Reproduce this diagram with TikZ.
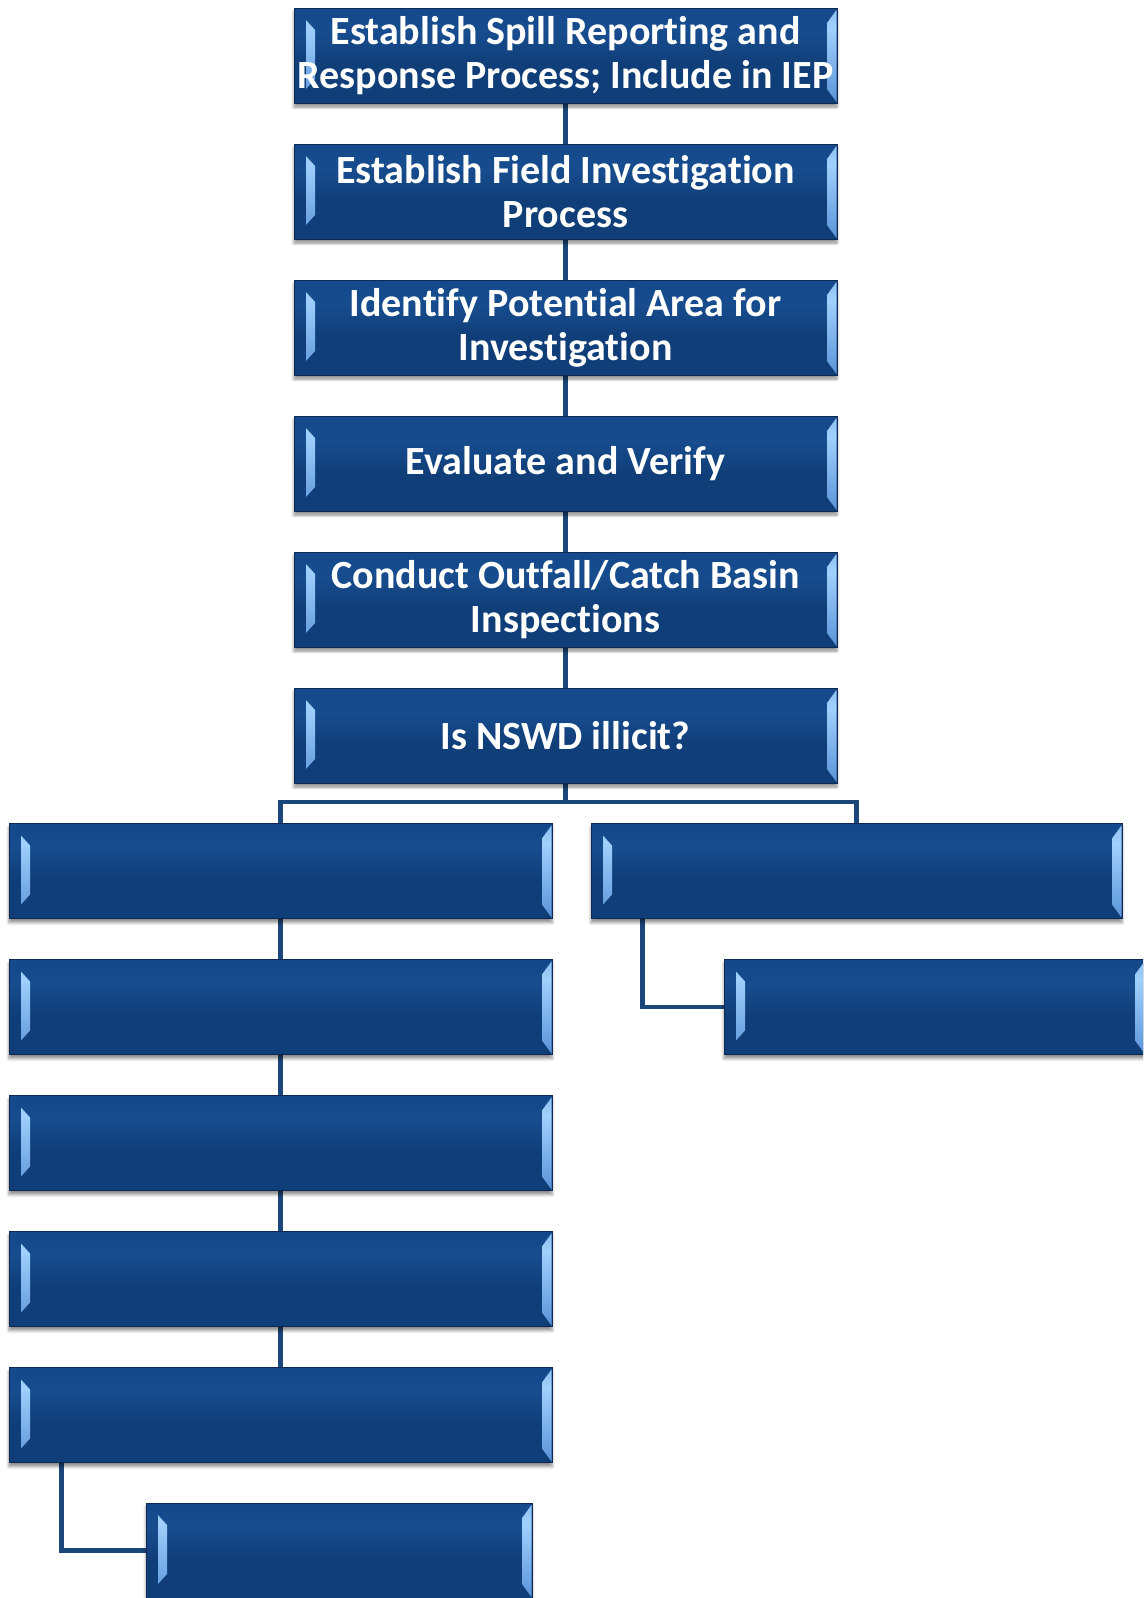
\documentclass[tikz,border=0pt]{standalone}
\usepackage{fontspec}
\setmainfont{Carlito}[Ligatures=NoCommon]
\usetikzlibrary{shadows.blur,backgrounds,calc}
\definecolor{boxedge}{RGB}{14,42,84}
\definecolor{bxa}{RGB}{13,52,104}
\definecolor{bxb}{RGB}{16,62,120}
\definecolor{bxc}{RGB}{23,76,142}
\definecolor{bxd}{RGB}{17,70,136}
\definecolor{bevlight}{RGB}{160,208,252}
\definecolor{bevmid}{RGB}{100,156,222}
\definecolor{bevdark}{RGB}{50,100,170}
\definecolor{lineblue}{RGB}{27,70,122}
\pgfdeclareverticalshading{boxshade}{100bp}{color(0bp)=(bxa); color(20bp)=(bxb); color(45bp)=(bxb); color(62bp)=(bxc); color(85bp)=(bxd); color(100bp)=(bxd)}
\pgfdeclareverticalshading{bevelshade}{100bp}{color(0bp)=(bevdark); color(30bp)=(bevmid); color(65bp)=(bevlight); color(100bp)=(bevmid)}
\tikzset{
  flowbox/.style={rectangle, draw=boxedge, line width=0.8pt, minimum width=#1, minimum height=95pt, inner sep=0pt,
    shade, shading=boxshade, text=white, align=center,
    font=\bfseries\fontsize{40}{44}\selectfont,
    blur shadow={shadow xshift=0pt, shadow yshift=-4pt, shadow blur radius=3pt, shadow opacity=45},
    path picture={
      \shade[shading=bevelshade]
        ([shift={(12pt,-12pt)}]path picture bounding box.north west) --
        ([shift={(12pt,14pt)}]path picture bounding box.south west) --
        ([shift={(21pt,24pt)}]path picture bounding box.south west) --
        ([shift={(21pt,-22pt)}]path picture bounding box.north west) -- cycle;
      \shade[shading=bevelshade]
        ([shift={(-0.5pt,-2pt)}]path picture bounding box.north east) --
        ([shift={(-0.5pt,1pt)}]path picture bounding box.south east) --
        ([shift={(-10pt,14pt)}]path picture bounding box.south east) --
        ([shift={(-10pt,-15pt)}]path picture bounding box.north east) -- cycle;
    }},
  conn/.style={draw=lineblue, line width=4.5pt}
}
\begin{document}
\begin{tikzpicture}[x=1pt,y=-1pt]
\useasboundingbox (0,0) rectangle (1143,1598);
\clip (0,0) rectangle (1143,1598);
\node[flowbox=543pt] (t1) at (565.5,55.5) {Establish Spill Reporting and\\Response Process; Include in IEP};
\node[flowbox=543pt] (t2) at (565.5,191.5) {Establish Field Investigation\\Process};
\node[flowbox=543pt] (t3) at (565.5,327.5) {Identify Potential Area for\\Investigation};
\node[flowbox=543pt] (t4) at (565.5,463.5) {Evaluate and Verify};
\node[flowbox=543pt] (t5) at (565.5,599.5) {Conduct Outfall/Catch Basin\\Inspections};
\node[flowbox=543pt] (t6) at (565.5,735.5) {Is NSWD illicit?};
\node[flowbox=543pt] (l1) at (280.5,871) {};
\node[flowbox=543pt] (l2) at (280.5,1007) {};
\node[flowbox=543pt] (l3) at (280.5,1143) {};
\node[flowbox=543pt] (l4) at (280.5,1279) {};
\node[flowbox=543pt] (l5) at (280.5,1415) {};
\node[flowbox=531pt] (r1) at (856.5,871) {};
\node[flowbox=421pt] (r2) at (934.5,1007) {};
\node[flowbox=386pt] (b1) at (339,1550.5) {};
\coordinate (bj) at (565.5,802);
\begin{pgfonlayer}{background}
\draw[conn] (t1.south) -- (t2.north);
\draw[conn] (t2.south) -- (t3.north);
\draw[conn] (t3.south) -- (t4.north);
\draw[conn] (t4.south) -- (t5.north);
\draw[conn] (t5.south) -- (t6.north);
\draw[conn] (t6.south) -- (bj);
\draw[conn, line join=miter] (l1.north) -- (l1.north |- bj) -- (r1.north |- bj) -- (r1.north);
\draw[conn] (l1.south) -- (l2.north);
\draw[conn] (l2.south) -- (l3.north);
\draw[conn] (l3.south) -- (l4.north);
\draw[conn] (l4.south) -- (l5.north);
\draw[conn, line join=miter] ([xshift=52pt]r1.south west) |- (r2.west);
\draw[conn, line join=miter] ([xshift=53pt]l5.south west) |- (b1.west);
\end{pgfonlayer}
\end{tikzpicture}
\end{document}
